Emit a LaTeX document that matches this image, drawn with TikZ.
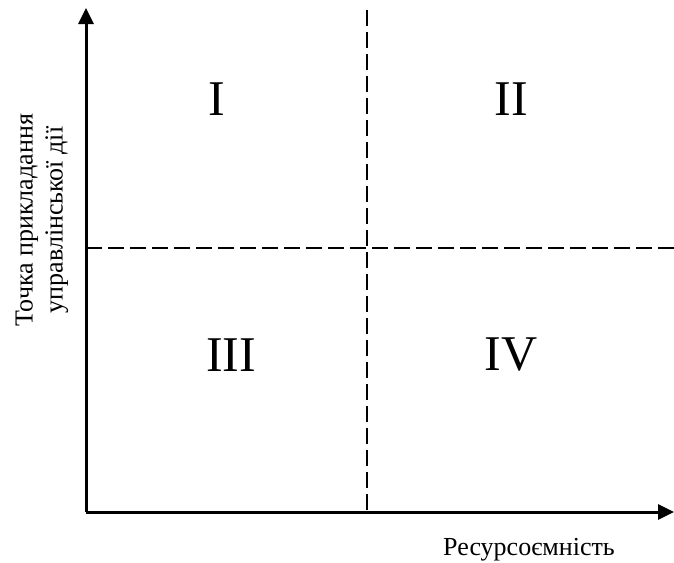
\documentclass[tikz,border=0pt]{standalone}
\usepackage{fontspec}
\setmainfont{Liberation Serif}
\usetikzlibrary{positioning,arrows.meta}

\tikzset{
	axis/.style = {line width = 3pt, ->},
	divide/.style = {line width = 1.8pt, dash pattern = on 16pt off 6pt},
	zone/.style = {font = \fontsize{50}{58}\selectfont},
	axlabel/.style = {font = \fontsize{26}{30}\selectfont, align = center}
}

\begin{document}
\begin{tikzpicture}[x = 1pt, y = -1pt, >={Triangle[length=16pt, width=15pt]}]
		\useasboundingbox (0,0) rectangle (674,562);
		\coordinate (origin) at (86,512);
		\coordinate (ytop) at (86,8);
		\coordinate (xend) at (674,512);
		\coordinate (vtop) at (367,10);
		\coordinate (vbot) at (367,512);
		\coordinate (hleft) at (86,248);
		\coordinate (hright) at (674,248);
		% dividing lines
		\draw[divide] (vtop) -- (vbot);
		\draw[divide] (hleft) -- (hright);
		% axes
		\draw[axis] (origin) -- (ytop);
		\draw[axis] (origin) -- (xend);
		% quadrants
		\node[zone] (q1) at (217,99) {I};
		\node[zone] (q2) at (511,99) {II};
		\node[zone] (q3) at (231,355) {III};
		\node[zone] (q4) at (511,355) {IV};
		\node[axlabel] (xlab) at (529,550) {Ресурсоємність};
		\node[axlabel, rotate = 90] (ylab) at (42,220) {Точка прикладання\\управлінської дії};
	\end{tikzpicture}
\end{document}
